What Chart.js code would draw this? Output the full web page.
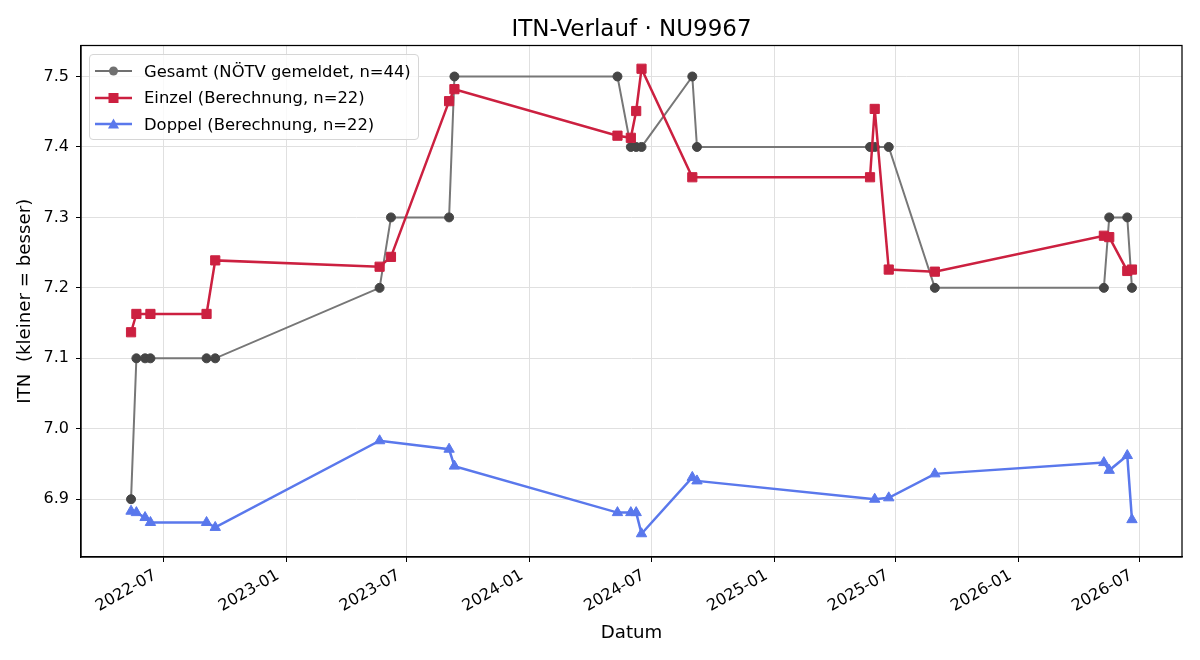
<!DOCTYPE html>
<html lang="de">
<head>
<meta charset="utf-8">
<title>ITN-Verlauf · NU9967</title>
<script src="https://cdn.jsdelivr.net/npm/chart.js@4.4.1/dist/chart.umd.min.js"></script>
<style>
  html, body { margin: 0; padding: 0; background: #fff; }
  #wrap { position: relative; width: 1200px; height: 660px; }
  #title {
    position: absolute; left: 81px; width: 1101px; top: 14px; height: 28px; line-height: 28px;
    text-align: center; font-family: "DejaVu Sans", sans-serif; font-size: 23px; color: #000;
  }
  #legend {
    position: absolute; left: 89px; top: 54px; width: 328px; height: 81px;
    padding-top: 3px; border: 1px solid #d6d6d6; border-radius: 4px;
    background: rgba(255,255,255,0.8);
    font-family: "DejaVu Sans", sans-serif; font-size: 16.4px; color: #000;
  }
  #legend .row { height: 26.5px; display: flex; align-items: center; white-space: nowrap; }
  #legend svg { margin-left: 5px; margin-right: 12px; flex-shrink: 0; }
</style>
</head>
<body>
<div id="wrap">
  <canvas id="chart" width="1200" height="660"></canvas>
  <div id="title"></div>
  <div id="legend"></div>
</div>
<script>
// ===== Daten =====
var TITLE = "ITN-Verlauf · NU9967";
var X_TITLE = "Datum";
var Y_TITLE = "ITN  (kleiner = besser)";

var GESAMT_LABEL = "Gesamt (NÖTV gemeldet, n=44)";
var GESAMT_DATES = ["2022-05-14", "2022-05-22", "2022-06-04", "2022-06-12", "2022-09-04", "2022-09-17",
  "2023-05-21", "2023-06-07", "2023-09-02", "2023-09-10",
  "2024-05-11", "2024-05-31", "2024-06-08", "2024-06-16", "2024-08-31", "2024-09-07",
  "2025-05-24", "2025-05-31", "2025-06-21", "2025-08-29",
  "2026-05-09", "2026-05-17", "2026-06-13", "2026-06-20"];
var GESAMT_ITN = [6.9, 7.1, 7.1, 7.1, 7.1, 7.1,
  7.2, 7.3, 7.3, 7.5,
  7.5, 7.4, 7.4, 7.4, 7.5, 7.4,
  7.4, 7.4, 7.4, 7.2,
  7.2, 7.3, 7.3, 7.2];

var EINZEL_LABEL = "Einzel (Berechnung, n=22)";
var EINZEL_DATES = ["2022-05-14", "2022-05-22", "2022-06-12", "2022-09-04", "2022-09-17",
  "2023-05-21", "2023-06-07", "2023-09-02", "2023-09-10",
  "2024-05-11", "2024-05-31", "2024-06-08", "2024-06-16", "2024-08-31",
  "2025-05-24", "2025-05-31", "2025-06-21", "2025-08-29",
  "2026-05-09", "2026-05-17", "2026-06-13", "2026-06-20"];
var EINZEL_ITN = [7.137, 7.163, 7.163, 7.163, 7.239,
  7.230, 7.244, 7.465, 7.482,
  7.416, 7.413, 7.451, 7.511, 7.357,
  7.357, 7.454, 7.226, 7.223,
  7.274, 7.272, 7.224, 7.226];

var DOPPEL_LABEL = "Doppel (Berechnung, n=22)";
var DOPPEL_DATES = ["2022-05-14", "2022-05-22", "2022-06-04", "2022-06-12", "2022-09-04", "2022-09-17",
  "2023-05-21", "2023-09-02", "2023-09-10",
  "2024-05-11", "2024-05-31", "2024-06-08", "2024-06-16", "2024-08-31", "2024-09-07",
  "2025-05-31", "2025-06-21", "2025-08-29",
  "2026-05-09", "2026-05-17", "2026-06-13", "2026-06-20"];
var DOPPEL_ITN = [6.883, 6.881, 6.874, 6.867, 6.867, 6.860,
  6.983, 6.971, 6.947,
  6.881, 6.881, 6.881, 6.851, 6.931, 6.926,
  6.900, 6.902, 6.936,
  6.952, 6.941, 6.962, 6.871];

var FONT = "'DejaVu Sans', sans-serif";
var C_GESAMT_LINE = "#777777", C_GESAMT_PT = "#454545", C_GESAMT_LEG = "#707070";
var C_EINZEL = "#cc2040";
var C_DOPPEL = "#5a78ec";

// ===== Hilfsfunktionen =====
function toMs(s) {
  var p = s.split("-");
  return Date.UTC(+p[0], +p[1] - 1, +p[2]);
}
function pts(dates, vals) {
  var out = [];
  for (var i = 0; i < dates.length; i++) out.push({ x: toMs(dates[i]), y: vals[i] });
  return out;
}
function pad2(n) { return n < 10 ? "0" + n : "" + n; }

// Achsenbereiche wie matplotlib: 5 % Rand um die Daten
var allX = [].concat(GESAMT_DATES, EINZEL_DATES, DOPPEL_DATES).map(toMs);
var allY = [].concat(GESAMT_ITN, EINZEL_ITN, DOPPEL_ITN);
var xLo = Math.min.apply(null, allX), xHi = Math.max.apply(null, allX);
var yLo = Math.min.apply(null, allY), yHi = Math.max.apply(null, allY);
var X_MIN = xLo - (xHi - xLo) * 0.05, X_MAX = xHi + (xHi - xLo) * 0.05;
var Y_MIN = yLo - (yHi - yLo) * 0.05, Y_MAX = yHi + (yHi - yLo) * 0.05;

// Ticks: Halbjahresanfänge / 0.1er Schritte
var X_TICKS = [];
for (var yr = 2022; yr <= 2026; yr++) {
  [0, 6].forEach(function (m) {
    var t = Date.UTC(yr, m, 1);
    if (t >= X_MIN && t <= X_MAX) X_TICKS.push(t);
  });
}
var Y_TICKS = [];
for (var k = Math.ceil(Y_MIN * 10); k <= Math.floor(Y_MAX * 10); k++) Y_TICKS.push(k / 10);

// ===== Rahmen (alle vier Achsenlinien) =====
var framePlugin = {
  id: "frame",
  afterDatasetsDraw: function (chart) {
    var a = chart.chartArea, c = chart.ctx;
    c.save();
    c.strokeStyle = "#000";
    c.lineWidth = 1.25;
    c.strokeRect(a.left, a.top, a.right - a.left, a.bottom - a.top);
    c.restore();
  }
};

var tickFont = { family: FONT, size: 16 };
var axisTitleFont = { family: FONT, size: 18.2, lineHeight: 1.2 };

var chart = new Chart(document.getElementById("chart"), {
  type: "line",
  data: {
    datasets: [
      {
        label: GESAMT_LABEL, data: pts(GESAMT_DATES, GESAMT_ITN), order: 3,
        borderColor: C_GESAMT_LINE, borderWidth: 2, tension: 0,
        pointStyle: "circle", pointRadius: 4.5, pointBackgroundColor: C_GESAMT_PT,
        pointBorderColor: C_GESAMT_PT, pointBorderWidth: 1
      },
      {
        label: EINZEL_LABEL, data: pts(EINZEL_DATES, EINZEL_ITN), order: 2,
        borderColor: C_EINZEL, borderWidth: 2.5, tension: 0,
        pointStyle: "rect", pointRadius: 6.5, pointBackgroundColor: C_EINZEL,
        pointBorderColor: C_EINZEL, pointBorderWidth: 1
      },
      {
        label: DOPPEL_LABEL, data: pts(DOPPEL_DATES, DOPPEL_ITN), order: 1,
        borderColor: C_DOPPEL, borderWidth: 2.5, tension: 0,
        pointStyle: "triangle", pointRadius: 6, pointBackgroundColor: C_DOPPEL,
        pointBorderColor: C_DOPPEL, pointBorderWidth: 1
      }
    ]
  },
  options: {
    responsive: false,
    animation: false,
    layout: { padding: { left: 0, right: 18, top: 45.5, bottom: 0 } },
    plugins: {
      legend: { display: false },
      tooltip: { enabled: false },
      title: { display: false }
    },
    scales: {
      x: {
        type: "linear", min: X_MIN, max: X_MAX,
        afterBuildTicks: function (s) { s.ticks = X_TICKS.map(function (v) { return { value: v }; }); },
        afterFit: function (s) { s.height = 103; },
        ticks: {
          autoSkip: false, minRotation: 30, maxRotation: 30, padding: 4, labelOffset: -8,
          color: "#000", font: tickFont,
          callback: function (v) { var d = new Date(v); return d.getUTCFullYear() + "-" + pad2(d.getUTCMonth() + 1); }
        },
        grid: { color: "#e0e0e0", lineWidth: 1, tickColor: "#000", tickLength: 5, tickWidth: 1 },
        border: { display: true, color: "#000", width: 1.25 },
        title: { display: true, text: X_TITLE, color: "#000", font: axisTitleFont, padding: { top: 0, bottom: 16 } }
      },
      y: {
        type: "linear", min: Y_MIN, max: Y_MAX,
        afterBuildTicks: function (s) { s.ticks = Y_TICKS.map(function (v) { return { value: v }; }); },
        afterFit: function (s) { s.width = 81; },
        ticks: {
          padding: 7, color: "#000", font: tickFont,
          callback: function (v) { return v.toFixed(1); }
        },
        grid: { color: "#e0e0e0", lineWidth: 1, tickColor: "#000", tickLength: 5, tickWidth: 1 },
        border: { display: true, color: "#000", width: 1.25 },
        title: { display: true, text: Y_TITLE, color: "#000", font: axisTitleFont, padding: { top: 14, bottom: 0 } }
      }
    }
  },
  plugins: [framePlugin]
});

// ===== Titel und Legende (Legende innerhalb der Zeichenfläche, oben links) =====
document.getElementById("title").textContent = TITLE;

function marker(shape, color) {
  if (shape === "circle") return "<circle cx='18.5' cy='7' r='4.5' fill='" + color + "'/>";
  if (shape === "rect") return "<rect x='13.5' y='2' width='10' height='10' fill='" + color + "'/>";
  return "<polygon points='18.5,1.5 24,11.5 13,11.5' fill='" + color + "'/>";
}
var LEG = [
  [GESAMT_LABEL, C_GESAMT_LEG, "circle", 2],
  [EINZEL_LABEL, C_EINZEL, "rect", 2.5],
  [DOPPEL_LABEL, C_DOPPEL, "triangle", 2.5]
];
var html = "";
for (var i = 0; i < LEG.length; i++) {
  html += "<div class='row'>" +
    "<svg width='37' height='14'><line x1='0' y1='7' x2='37' y2='7' stroke='" + LEG[i][1] + "' stroke-width='" + LEG[i][3] + "'/>" +
    marker(LEG[i][2], LEG[i][1]) + "</svg>" +
    "<span>" + LEG[i][0] + "</span></div>";
}
document.getElementById("legend").innerHTML = html;
</script>
</body>
</html>
